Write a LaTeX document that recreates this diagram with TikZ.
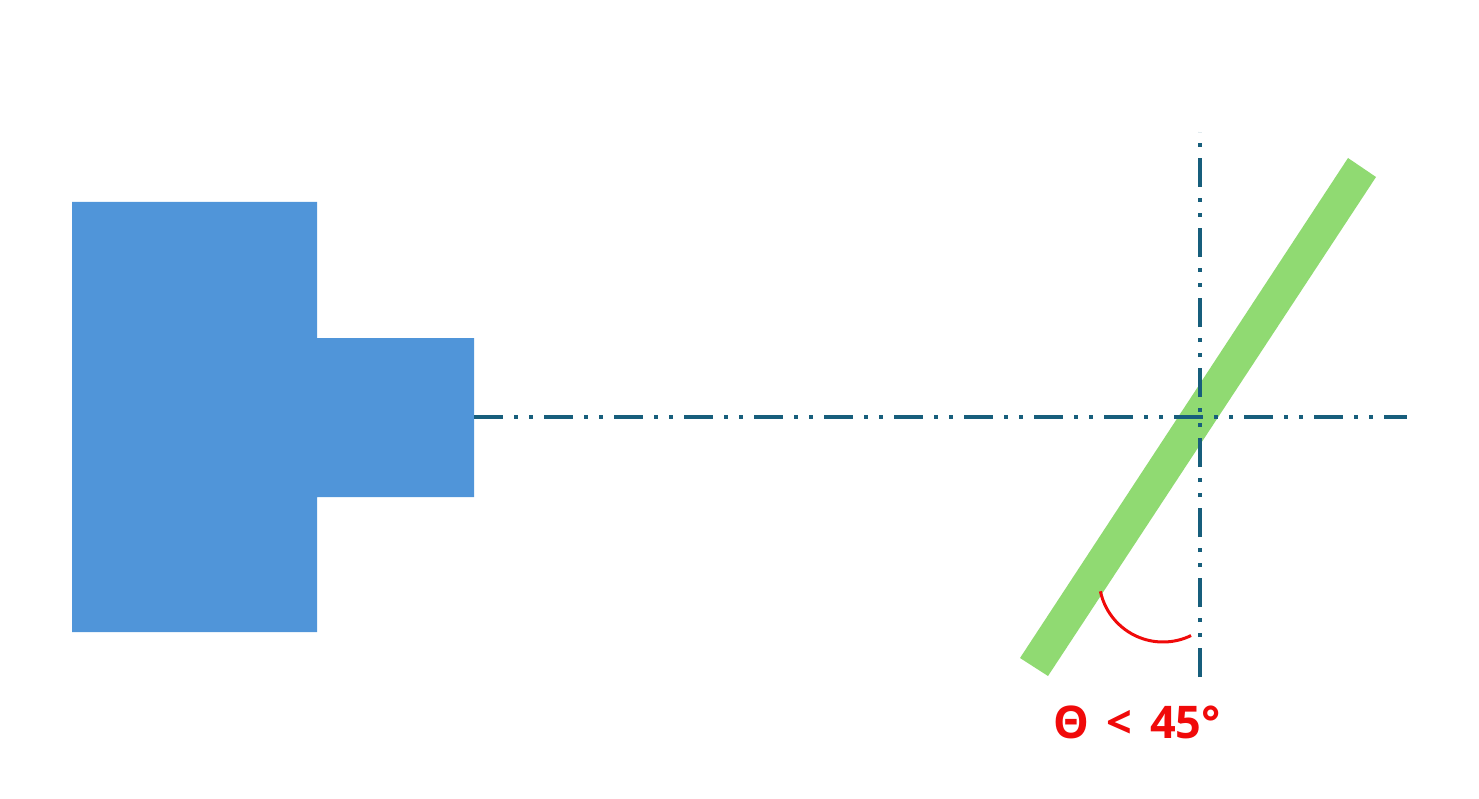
\documentclass[tikz,border=0pt]{standalone}
\usepackage{fontspec}
\newfontfamily\labelfont{Open Sans}
\definecolor{boxblue}{RGB}{80,149,217}
\definecolor{bargreen}{RGB}{144,218,114}
\definecolor{axisblue}{RGB}{23,94,124}
\definecolor{arcred}{RGB}{240,10,10}
\tikzset{
  axisline/.style={draw=axisblue, line width=4pt,
    dash pattern=on 29pt off 11pt on 4pt off 11pt on 4pt off 11pt},
  anglearc/.style={draw=arcred, line width=3pt},
  anglelabel/.style={text=arcred, inner sep=0pt, font=\labelfont\bfseries\fontsize{45}{50}\selectfont}
}
\begin{document}
\begin{tikzpicture}[x=1pt,y=-1pt]
\useasboundingbox (0,0) rectangle (1479,799);
% device body
\fill[boxblue] (72,202) -- (317,202) -- (317,338) -- (474,338) -- (474,497)
  -- (317,497) -- (317,632) -- (72,632) -- cycle;
% tilted plate
\fill[bargreen] (1348,158) -- (1376,177) -- (1048,676) -- (1020,658) -- cycle;
% axes
\coordinate (hs) at (474,417);
\coordinate (he) at (1407,417);
\coordinate (vs) at (1200,677);
\coordinate (ve) at (1200,132);
\draw[axisline] (hs) -- (he);
\draw[axisline] (vs) -- (ve);
% angle arc
\coordinate (ac) at (1163,578);
\draw[anglearc] ([shift={(168:64)}]ac) arc[start angle=168, end angle=64, radius=64];
\node[anglelabel] (lab) at (1137,722) {Θ\hspace{6pt} <\hspace{6pt} 45°};
\end{tikzpicture}
\end{document}
